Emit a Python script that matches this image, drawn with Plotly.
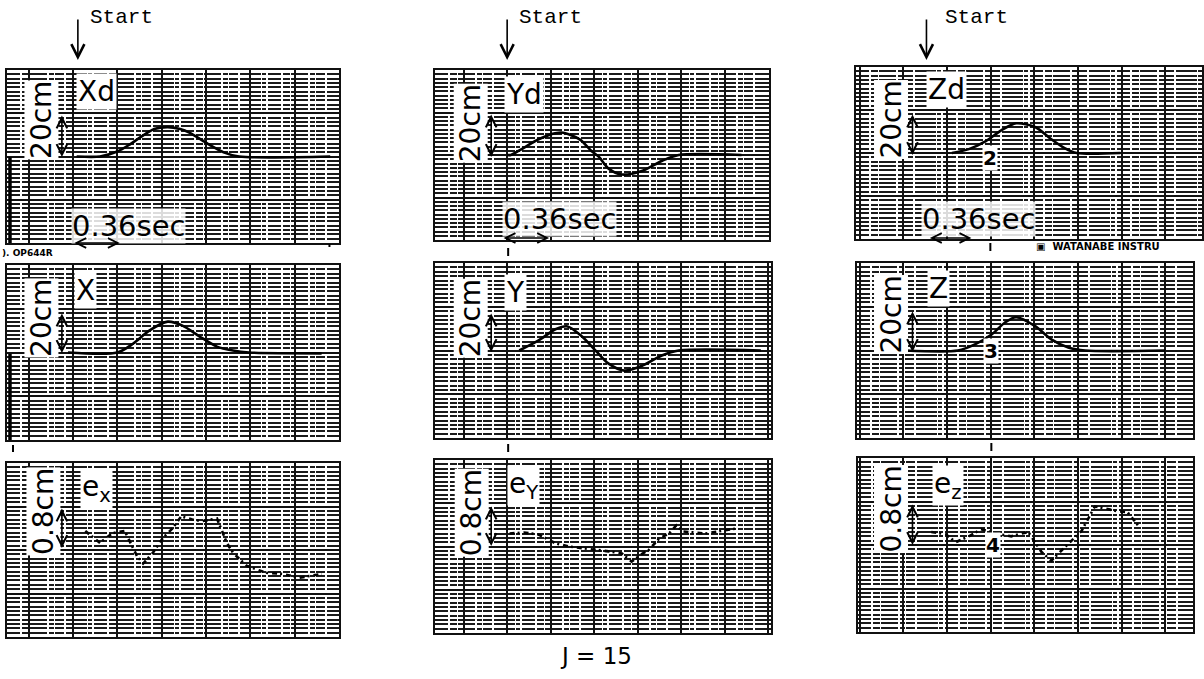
import plotly.graph_objects as go

W, H = 1204, 679

# ---------------- recorded signals ----------------
# time in seconds after Start, displacement in cm (top two rows), error in cm (bottom row)
xd_t = [-0.01, 0.18, 0.32, 0.42, 0.50, 0.62, 0.73, 0.83, 0.91, 1.04, 1.19, 1.31, 2.05]
xd_v = [0.0, 0.0, 2.3, 5.5, 8.6, 12.7, 13.6, 12.7, 10.9, 6.4, 1.8, 0.0, 0.0]

yd_t = [0.0, 0.03, 0.12, 0.26, 0.36, 0.45, 0.60, 0.70, 0.76, 0.84, 0.95, 1.12, 1.28, 1.42, 1.94]
yd_v = [0.0, 0.0, 2.8, 7.4, 9.7, 10.6, 7.4, 1.8, -0.9, -6.4, -9.2, -7.4, -2.8, 0.0, 0.0]

zd_t = [0.21, 0.35, 0.49, 0.62, 0.74, 0.90, 1.03, 1.14, 1.24, 1.60]
zd_v = [0.0, 1.8, 5.5, 10.6, 13.8, 12.0, 6.4, 2.3, 0.0, 0.0]

x_t = [-0.08, 0.32, 0.45, 0.58, 0.73, 0.85, 0.99, 1.13, 1.26, 1.39, 1.98]
x_v = [0.0, 0.0, 4.1, 10.0, 14.1, 12.3, 7.3, 2.7, 0.9, 0.0, -0.4]

y_t = [0.10, 0.26, 0.40, 0.50, 0.62, 0.74, 0.84, 0.97, 1.12, 1.28, 1.42, 2.10]
y_v = [0.0, 4.6, 9.7, 11.0, 6.4, -0.5, -6.0, -9.2, -6.9, -2.3, 0.0, 0.0]

z_t = [-0.17, 0.26, 0.40, 0.54, 0.65, 0.74, 0.90, 1.03, 1.17, 1.31, 1.97]
z_v = [0.0, 0.0, 2.8, 7.4, 12.9, 15.2, 11.0, 5.1, 1.4, 0.0, 0.0]

ex_t = [0.06, 0.18, 0.28, 0.38, 0.48, 0.53, 0.61, 0.69, 0.77, 0.84, 0.93, 1.01, 1.13,
        1.21, 1.26, 1.37, 1.53, 1.66, 1.80, 1.98]
ex_v = [0.35, 0.13, 0.31, 0.35, -0.11, -0.25, -0.05, 0.22, 0.40, 0.62, 0.56, 0.53, 0.58,
        0.13, -0.05, -0.29, -0.42, -0.44, -0.51, -0.44]

ey_t = [0.02, 0.14, 0.26, 0.40, 0.51, 0.68, 0.84, 0.95, 1.03, 1.12, 1.17, 1.26, 1.34,
        1.40, 1.45, 1.64, 1.75, 1.89]
ey_v = [0.24, 0.26, 0.22, 0.06, 0.0, -0.04, -0.09, -0.13, -0.28, -0.13, -0.07, 0.15, 0.24,
        0.39, 0.28, 0.24, 0.28, 0.33]

ez_t = [0.04, 0.16, 0.24, 0.35, 0.45, 0.59, 0.70, 0.84, 0.95, 1.03, 1.11, 1.19, 1.28,
        1.39, 1.50, 1.58, 1.66, 1.75]
ez_v = [0.24, 0.20, 0.05, 0.16, 0.29, 0.20, 0.16, 0.24, -0.13, -0.29, -0.11, 0.07, 0.26,
        0.71, 0.66, 0.62, 0.60, 0.35]

channel_names = ["Xd", "Yd", "Zd", "X", "Y", "Z",
                 "e<sub>x</sub>", "e<sub>Y</sub>", "e<sub>z</sub>"]
scale_labels = ["20cm", "20cm", "20cm", "20cm", "20cm", "20cm", "0.8cm", "0.8cm", "0.8cm"]
time_label = "0.36sec"
title_text = "J = 15"

series = [(xd_t, xd_v), (yd_t, yd_v), (zd_t, zd_v),
          (x_t, x_v), (y_t, y_v), (z_t, z_v),
          (ex_t, ex_v), (ey_t, ey_v), (ez_t, ez_v)]

# ---------------- page geometry (pixels) ----------------
col_start_px = [78, 508, 928]        # Start marker per column
col_px_per_s = [123.3, 121.0, 121.4]  # chart speed on the page
col_tick0 = [-0.04, 0.0, -0.19]      # position of the first time division
boxes = [
    (7, 340, 70, 243), (436, 770, 70, 240), (857, 1204, 67, 239),
    (7, 340, 265, 440), (436, 772, 263, 438), (858, 1195, 263, 438),
    (7, 340, 463, 637), (436, 772, 460, 633), (859, 1195, 458, 632),
]


def fx(px):
    return px / W


def fy(py):
    return 1 - py / H


def note(px, py, text, size, family="DejaVu Sans", **kw):
    d = dict(xref="paper", yref="paper", x=fx(px), y=fy(py), text=text,
             showarrow=False, xanchor="center", yanchor="middle",
             font=dict(family=family, size=size, color="black"))
    d.update(kw)
    return d


def arrow(px, py, dx, dy, both=False, size=1.3):
    d = dict(xref="paper", yref="paper", x=fx(px), y=fy(py), ax=dx, ay=dy,
             text="", showarrow=True, arrowhead=5, arrowsize=size,
             arrowwidth=1.6, arrowcolor="black")
    if both:
        d.update(arrowside="end+start", startarrowhead=5, startarrowsize=size)
    return d


fig = go.Figure()
layout = dict(
    width=W, height=H, autosize=False,
    margin=dict(l=0, r=0, t=0, b=0),
    paper_bgcolor="white", plot_bgcolor="white",
    showlegend=False,
)

ink = "#111111"
paper_dash = "13px,2px,7px,1px,17px,2px,5px,1px,9px,2px,21px,1px,4px,2px"
for i, (box, (ts, vs)) in enumerate(zip(boxes, series)):
    row, col = divmod(i, 3)
    left, right, top, bottom = box
    s0, pps = col_start_px[col], col_px_per_s[col]
    xr = [(left - s0) / pps, (right - s0) / pps]
    if row < 2:
        yr, ydt, ymin = [-40, 40], 20, 2
    else:
        yr, ydt, ymin = [-1.6, 1.6], 0.8, 0.08
    sfx = "" if i == 0 else str(i + 1)
    layout["xaxis" + sfx] = dict(
        domain=[fx(left), fx(right)], range=xr, anchor="y" + sfx,
        showticklabels=False, ticks="", zeroline=False,
        showgrid=True, dtick=0.36, tick0=col_tick0[col],
        gridcolor=ink, gridwidth=2,
        showline=True, mirror=True, linecolor=ink, linewidth=2,
        fixedrange=True,
    )
    layout["yaxis" + sfx] = dict(
        domain=[fy(bottom), fy(top)], range=yr, anchor="x" + sfx,
        showticklabels=False, ticks="", zeroline=False,
        showgrid=True, dtick=ydt, tick0=0, gridcolor=ink, gridwidth=2,
        minor=dict(dtick=ymin, tick0=0, showgrid=True, gridcolor="#1a1a1a",
                   gridwidth=1.9, griddash=paper_dash),
        showline=True, mirror=True, linecolor=ink, linewidth=2,
        fixedrange=True,
    )
    if row < 2:
        line = dict(color="black", width=2.6, shape="spline", smoothing=0.8)
    else:
        line = dict(color="black", width=2.6, dash="5px,3px,2px,4px")
    fig.add_trace(go.Scatter(x=ts, y=vs, mode="lines", line=line,
                             xaxis="x" + sfx, yaxis="y" + sfx, hoverinfo="skip"))

ann = []
shapes = []

# Start markers
start_text_x = [88, 518, 945]
for col in range(3):
    ann.append(arrow(col_start_px[col], 60, 0, -42, size=1.6))
    ann.append(note(start_text_x[col], 17, "Start", 21, family="Liberation Mono",
                    xanchor="left"))

# channel labels, scale labels and scale arrows
name_pos = [(97, 92), (525, 95), (948, 90), (86, 290), (516, 292), (940, 288),
            (97, 488), (524, 485), (950, 485)]
scale_pos = [(41, 120), (471, 123), (892, 120), (41, 318), (471, 318), (892, 315),
             (43, 511), (472, 513), (892, 509)]
arrow_x = [62, 492, 914]
arrow_span = [(114, 157), (113, 157), (113, 155), (312, 353), (312, 352), (310, 352),
              (507, 548), (505, 546), (503, 545)]
for i in range(9):
    col = i % 3
    nx, ny = name_pos[i]
    ann.append(note(nx, ny, channel_names[i], 28, bgcolor="white", borderpad=1))
    sx, sy = scale_pos[i]
    ann.append(note(sx, sy, scale_labels[i], 28, textangle=-90, bgcolor="white",
                    borderpad=0))
    a0, a1 = arrow_span[i]
    ann.append(arrow(arrow_x[col], a1, 0, -(a1 - a0), both=True))

# time scale labels
time_pos = [(129, 226), (560, 219), (980, 219)]
time_arrow = [(73, 120, 243), (503, 550, 238), (930, 973, 238)]
for col in range(3):
    tx, ty = time_pos[col]
    ann.append(note(tx, ty, time_label, 29, bgcolor="rgba(255,255,255,0.85)",
                    borderpad=0))
    a0, a1, ay = time_arrow[col]
    ann.append(arrow(a1, ay, -(a1 - a0), 0, both=True, size=1.2))

# event numbers written on the records
for txt, px, py in [("2", 992, 158), ("3", 993, 351), ("4", 995, 545)]:
    ann.append(note(px, py, "<b>" + txt + "</b>", 20, bgcolor="white", borderpad=0))

# paper imprint
ann.append(note(0, 253, "<b>). OP644R</b>", 9, xanchor="left"))
ann.append(note(1036, 246, "<b>▣  WATANABE INSTRU</b>", 10, xanchor="left"))

ann.append(note(597, 656, title_text, 23))

# pen markers and timing ticks on the chart paper
for (x0, y0, y1, w) in [(10, 157, 243, 3.5), (10, 354, 440, 3.5),
                        (13, 445, 452, 2), (509, 444, 452, 2), (509, 248, 256, 2),
                        (992, 243, 251, 2), (993, 443, 451, 2), (330, 244, 247, 2)]:
    shapes.append(dict(type="line", xref="paper", yref="paper", x0=fx(x0), x1=fx(x0),
                       y0=fy(y0), y1=fy(y1), line=dict(color="black", width=w)))

layout["annotations"] = ann
layout["shapes"] = shapes
fig.update_layout(**layout)
fig.write_html("out.html")
